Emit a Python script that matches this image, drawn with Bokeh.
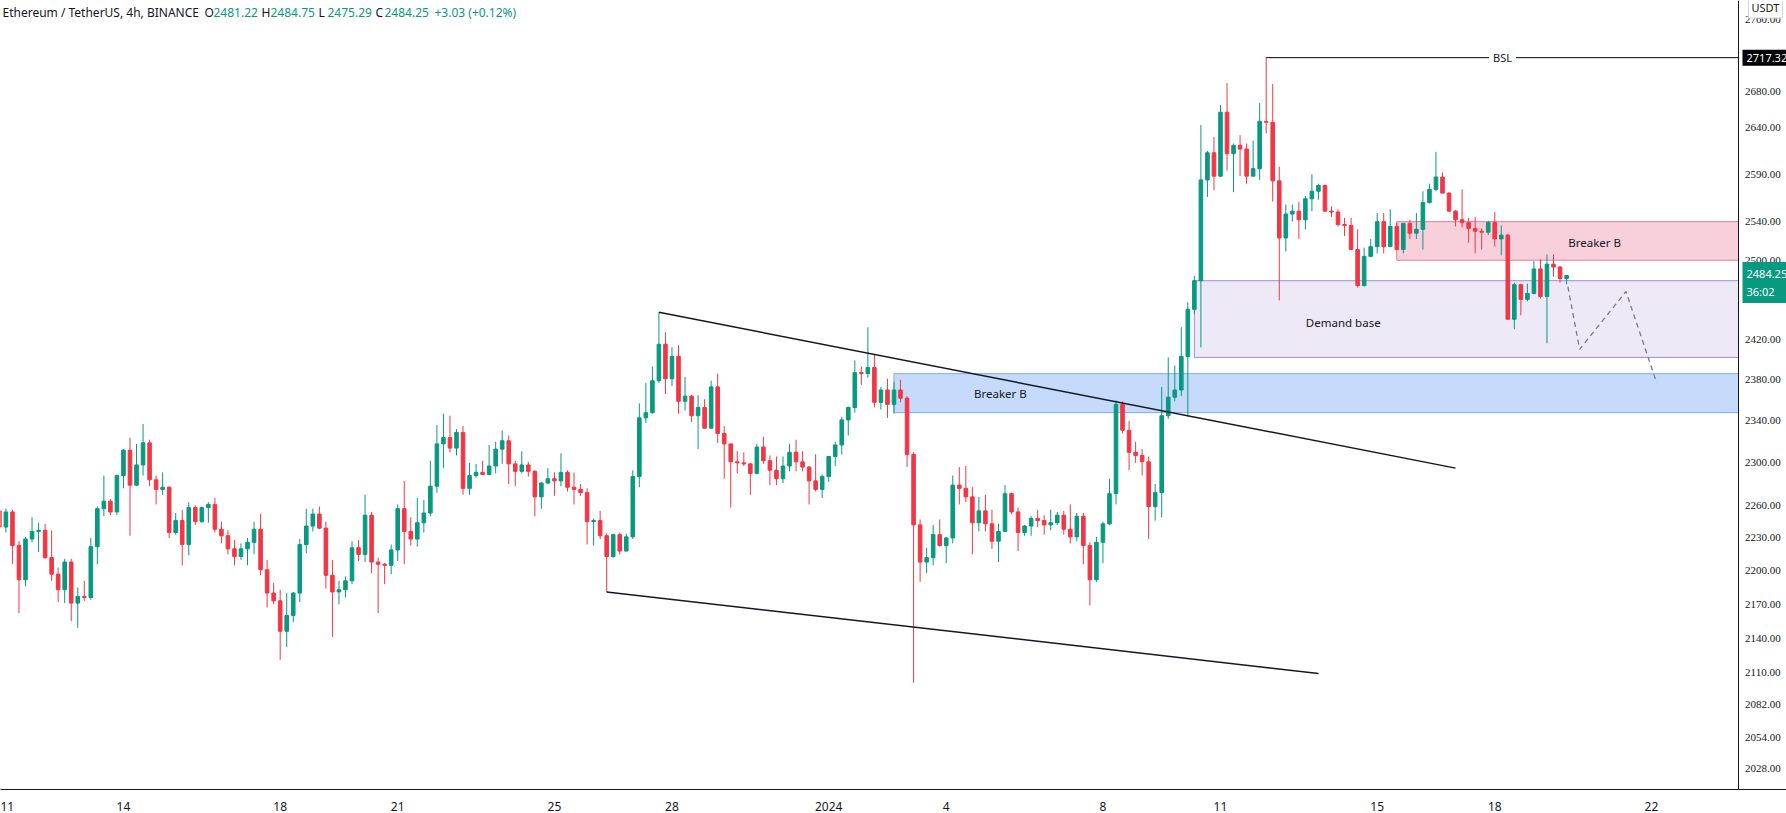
from datetime import datetime, timedelta
from bokeh.plotting import figure
from bokeh.models import Range1d, FixedTicker, Label, ColumnDataSource, Span
from bokeh.embed import file_html
from bokeh.resources import INLINE

# ---------------- data (ETH/USDT, 4h bars, Binance) ----------------
FIRST_BAR = datetime(2023, 12, 10, 20, 0)
BAR_HOURS = 4

opens = [2255, 2240, 2254, 2223, 2192, 2229, 2236, 2237, 2212, 2197,
         2183, 2208, 2171, 2177, 2176, 2222, 2257, 2264, 2254, 2288,
         2312, 2279, 2298, 2319, 2284, 2275, 2277, 2235, 2246, 2224,
         2258, 2245, 2258, 2261, 2238, 2232, 2220, 2213, 2220, 2226,
         2238, 2201, 2180, 2173, 2146, 2160, 2180, 2224, 2241, 2252,
         2239, 2196, 2181, 2183, 2191, 2221, 2215, 2251, 2208, 2206,
         2205, 2219, 2257, 2236, 2229, 2244, 2253, 2278, 2318, 2324,
         2314, 2329, 2276, 2288, 2291, 2289, 2297, 2313, 2321, 2299,
         2292, 2298, 2292, 2268, 2281, 2285, 2283, 2291, 2277, 2275,
         2272, 2245, 2246, 2232, 2213, 2233, 2218, 2231, 2287, 2343,
         2348, 2379, 2415, 2381, 2403, 2359, 2364, 2345, 2353, 2333,
         2373, 2328, 2318, 2301, 2300, 2299, 2290, 2315, 2302, 2293,
         2285, 2297, 2310, 2301, 2296, 2283, 2275, 2287, 2306, 2317,
         2341, 2353, 2387, 2386, 2392, 2358, 2370, 2356, 2370, 2362,
         2308, 2242, 2208, 2212, 2233, 2223, 2230, 2279, 2276, 2268,
         2244, 2255, 2243, 2227, 2236, 2271, 2254, 2235, 2241, 2248,
         2246, 2242, 2244, 2251, 2238, 2231, 2250, 2223, 2192, 2226,
         2243, 2271, 2356, 2331, 2310, 2307, 2301, 2259, 2272, 2345,
         2363, 2370, 2403, 2450, 2479, 2584, 2613, 2588, 2657, 2612,
         2621, 2617, 2588, 2596, 2647, 2646, 2583, 2523, 2548, 2551,
         2542, 2564, 2572, 2578, 2551, 2550, 2537, 2536, 2511, 2474,
         2504, 2514, 2540, 2514, 2535, 2511, 2538, 2528, 2532, 2560,
         2574, 2587, 2570, 2551, 2542, 2539, 2533, 2530, 2529, 2539,
         2522, 2526, 2440, 2475, 2460, 2466, 2491, 2463, 2496, 2493,
         2481.22]

highs = [2257, 2257, 2256, 2227, 2231, 2249, 2244, 2243, 2237, 2203,
         2211, 2211, 2185, 2191, 2230, 2259, 2288, 2266, 2289, 2313,
         2324, 2318, 2337, 2322, 2288, 2291, 2278, 2253, 2256, 2263,
         2260, 2259, 2263, 2267, 2245, 2237, 2228, 2225, 2230, 2245,
         2252, 2210, 2189, 2183, 2180, 2181, 2229, 2257, 2257, 2259,
         2245, 2210, 2191, 2195, 2227, 2228, 2270, 2254, 2212, 2207,
         2224, 2261, 2283, 2249, 2267, 2265, 2302, 2336, 2347, 2345,
         2332, 2335, 2300, 2299, 2302, 2317, 2320, 2331, 2326, 2302,
         2311, 2301, 2293, 2282, 2295, 2291, 2309, 2293, 2291, 2280,
         2276, 2248, 2255, 2234, 2234, 2235, 2234, 2293, 2357, 2377,
         2393, 2447, 2427, 2412, 2414, 2383, 2365, 2365, 2361, 2379,
         2386, 2335, 2318, 2311, 2310, 2300, 2318, 2325, 2307, 2306,
         2306, 2318, 2322, 2311, 2297, 2308, 2289, 2306, 2320, 2344,
         2354, 2399, 2393, 2432, 2405, 2373, 2381, 2378, 2380, 2364,
         2310, 2247, 2221, 2242, 2247, 2231, 2288, 2296, 2297, 2277,
         2268, 2270, 2256, 2243, 2279, 2272, 2258, 2242, 2250, 2256,
         2251, 2256, 2254, 2255, 2261, 2253, 2253, 2226, 2231, 2245,
         2285, 2360, 2359, 2340, 2320, 2313, 2306, 2280, 2373, 2402,
         2394, 2432, 2457, 2484, 2643, 2615, 2630, 2665, 2689, 2623,
         2632, 2623, 2626, 2667, 2717.32, 2688, 2598, 2558, 2558, 2561,
         2567, 2590, 2580, 2579, 2556, 2553, 2544, 2544, 2532, 2513,
         2522, 2549, 2549, 2553, 2539, 2539, 2542, 2549, 2572, 2580,
         2614, 2592, 2571, 2552, 2574, 2544, 2545, 2533, 2541, 2550,
         2536, 2527, 2477, 2476, 2476, 2499, 2501, 2506, 2506, 2494,
         2484.75]

lows = [2236, 2235, 2206, 2162, 2186, 2226, 2217, 2211, 2191, 2172,
        2171, 2155, 2149, 2173, 2174, 2206, 2250, 2251, 2251, 2276,
        2232, 2278, 2288, 2278, 2261, 2270, 2230, 2233, 2205, 2214,
        2242, 2244, 2244, 2235, 2225, 2215, 2205, 2210, 2205, 2215,
        2196, 2167, 2170, 2121, 2132, 2154, 2172, 2216, 2236, 2238,
        2184, 2141, 2170, 2176, 2188, 2209, 2208, 2198, 2162, 2188,
        2197, 2209, 2206, 2223, 2222, 2235, 2250, 2272, 2295, 2310,
        2307, 2270, 2270, 2286, 2289, 2288, 2290, 2299, 2280, 2278,
        2290, 2287, 2250, 2257, 2280, 2269, 2278, 2273, 2261, 2269,
        2224, 2223, 2229, 2181, 2212, 2215, 2218, 2229, 2277, 2338,
        2347, 2377, 2366, 2374, 2347, 2350, 2339, 2313, 2333, 2333,
        2319, 2285, 2258, 2290, 2297, 2270, 2289, 2299, 2279, 2279,
        2281, 2292, 2292, 2292, 2261, 2273, 2267, 2282, 2297, 2308,
        2326, 2348, 2375, 2382, 2353, 2351, 2343, 2347, 2358, 2296,
        2101, 2190, 2198, 2205, 2222, 2207, 2225, 2261, 2263, 2215,
        2236, 2236, 2220, 2208, 2236, 2252, 2218, 2232, 2232, 2240,
        2233, 2237, 2242, 2233, 2225, 2227, 2206, 2169, 2190, 2207,
        2242, 2261, 2328, 2293, 2300, 2288, 2229, 2246, 2249, 2342,
        2359, 2364, 2344, 2445, 2412, 2566, 2573, 2587, 2594, 2571,
        2588, 2580, 2588, 2584, 2634, 2561, 2459, 2509, 2540, 2522,
        2532, 2551, 2563, 2551, 2545, 2535, 2525, 2511, 2472, 2473,
        2503, 2507, 2507, 2514, 2511, 2507, 2522, 2522, 2511, 2559,
        2572, 2570, 2551, 2535, 2534, 2518, 2507, 2511, 2526, 2514,
        2505, 2440, 2430, 2444, 2458, 2465, 2461, 2416, 2483, 2477,
        2475.29]

closes = [2240, 2254, 2223, 2192, 2229, 2236, 2237, 2212, 2197, 2183,
          2208, 2171, 2177, 2176, 2222, 2257, 2264, 2254, 2288, 2312,
          2279, 2298, 2319, 2284, 2275, 2277, 2235, 2246, 2224, 2258,
          2245, 2258, 2261, 2238, 2232, 2220, 2213, 2220, 2226, 2238,
          2201, 2180, 2173, 2146, 2160, 2180, 2224, 2241, 2252, 2239,
          2196, 2181, 2183, 2191, 2221, 2215, 2251, 2208, 2206, 2205,
          2219, 2257, 2236, 2229, 2244, 2253, 2278, 2318, 2324, 2314,
          2329, 2276, 2288, 2291, 2289, 2297, 2313, 2321, 2299, 2292,
          2298, 2292, 2268, 2281, 2285, 2283, 2291, 2277, 2275, 2272,
          2245, 2246, 2232, 2213, 2233, 2218, 2231, 2287, 2343, 2348,
          2379, 2415, 2381, 2403, 2359, 2364, 2345, 2353, 2333, 2373,
          2328, 2318, 2301, 2300, 2299, 2290, 2315, 2302, 2293, 2285,
          2297, 2310, 2301, 2296, 2283, 2275, 2287, 2306, 2317, 2341,
          2353, 2387, 2386, 2392, 2358, 2370, 2356, 2370, 2362, 2308,
          2242, 2208, 2212, 2233, 2223, 2230, 2279, 2276, 2268, 2244,
          2255, 2243, 2227, 2236, 2271, 2254, 2235, 2241, 2248, 2246,
          2242, 2244, 2251, 2238, 2231, 2250, 2223, 2192, 2226, 2243,
          2271, 2356, 2331, 2310, 2307, 2301, 2259, 2272, 2345, 2363,
          2370, 2403, 2450, 2479, 2584, 2613, 2588, 2657, 2612, 2621,
          2617, 2588, 2596, 2647, 2646, 2583, 2523, 2548, 2551, 2542,
          2564, 2572, 2578, 2551, 2550, 2537, 2536, 2511, 2474, 2504,
          2514, 2540, 2514, 2535, 2511, 2538, 2528, 2532, 2560, 2574,
          2587, 2570, 2551, 2542, 2539, 2533, 2530, 2529, 2539, 2522,
          2526, 2440, 2475, 2460, 2466, 2491, 2463, 2496, 2493, 2481.22,
          2484.25]

price_ticks = [2028, 2054, 2082, 2110, 2140, 2170, 2200, 2230, 2260, 2300,
               2340, 2380, 2420, 2460, 2500, 2540, 2590, 2640, 2680, 2760]
date_ticks = ["2023-12-11", "2023-12-14", "2023-12-18", "2023-12-21", "2023-12-25",
              "2023-12-28", "2024-01-01", "2024-01-04", "2024-01-08", "2024-01-11",
              "2024-01-15", "2024-01-18", "2024-01-22"]
date_tick_labels = ["11", "14", "18", "21", "25", "28", "2024", "4", "8", "11", "15", "18", "22"]

# drawings (bar number, price)
breaker_blue = (138, 2348, 2386)      # start bar, bottom, top
demand_base = (184, 2402, 2479)
breaker_pink = (215, 2500, 2540)
bsl_bar, bsl_level = 195, 2717.32
upper_trend_x, upper_trend_y = [102, 224], [2447, 2295]
lower_trend_x, lower_trend_y = [94, 203], [2181, 2109]
proj_x = [241.2, 243.0, 250.1, 254.8]
proj_y = [2473, 2410, 2468, 2377]

header_title = "Ethereum / TetherUS, 4h, BINANCE"
ohlc_names = ["O", "H", "L", "C"]
change_text = "+3.03 (+0.12%)"
countdown = "36:02"
currency = "USDT"

# visible window (bars / prices)
X_START, X_END = 1.17, 274.68
AXIS_BAR = 267.33            # where the price scale begins
Y_BOTTOM, Y_TOP = 2010.7, 2782.0
HEADER_Y = 2768.0

UP, DOWN = "#089981", "#f23645"
INK = "#131722"
FONT = "Noto Sans"

# ---------------- figure ----------------
n = len(opens)
bars = list(range(1, n + 1))
colors = [UP if c >= o else DOWN for o, c in zip(opens, closes)]
src = ColumnDataSource(dict(
    x=bars, high=highs, low=lows,
    top=[max(o, c) for o, c in zip(opens, closes)],
    bottom=[min(o, c) for o, c in zip(opens, closes)],
    color=colors))

p = figure(width=1786, height=813, y_axis_type="log", y_axis_location=None,
           x_range=Range1d(X_START, X_END), y_range=Range1d(Y_BOTTOM, Y_TOP),
           toolbar_location=None, output_backend="svg",
           min_border_left=0, min_border_right=0, min_border_top=0, min_border_bottom=0,
           background_fill_color="white", border_fill_color="white")
p.outline_line_color = None
p.xgrid.visible = False
p.ygrid.visible = False

# time axis
bar_of = lambda d: 1 + (datetime.strptime(d, "%Y-%m-%d") - FIRST_BAR) / timedelta(hours=BAR_HOURS)
tick_bars = [int(round(bar_of(d))) for d in date_ticks]
p.xaxis.ticker = FixedTicker(ticks=tick_bars)
p.xaxis.major_label_overrides = {b: lab for b, lab in zip(tick_bars, date_tick_labels)}
p.xaxis.major_tick_line_color = None
p.xaxis.minor_tick_line_color = None
p.xaxis.axis_line_color = INK
p.xaxis.major_label_text_color = INK
p.xaxis.major_label_text_font = FONT
p.xaxis.major_label_text_font_size = "12px"
p.xaxis.major_label_standoff = 6

# zones
for (start, lo, hi), fill, edge in [(breaker_blue, "#c6dbfb", "#82aaf0"),
                                    (demand_base, "#ede9f6", "#a68ad8"),
                                    (breaker_pink, "#f8d0dc", "#e57a9c")]:
    p.quad(left=[start], right=[AXIS_BAR], bottom=[lo], top=[hi],
           fill_color=fill, line_color=edge, line_width=1)

# candles
p.segment(x0="x", y0="low", x1="x", y1="high", color="color", line_width=1, source=src)
p.vbar(x="x", width=0.55, top="top", bottom="bottom", fill_color="color",
       line_color="color", line_width=1, source=src)

# trend lines, BSL, projection
p.line(upper_trend_x, upper_trend_y, color=INK, line_width=1.5)
p.line(lower_trend_x, lower_trend_y, color=INK, line_width=1.5)
p.segment(x0=[bsl_bar], y0=[bsl_level], x1=[AXIS_BAR], y1=[bsl_level], color="black", line_width=1)
p.line(proj_x, proj_y, color="#787b86", line_width=1.3, line_dash="5 4")

# drawing labels
def txt(x, y, s, size="11.5px", **kw):
    p.add_layout(Label(x=x, y=y, text=s, text_font=FONT, text_font_size=size,
                       text_color=INK, text_align="center", text_baseline="middle", **kw))

txt(154.3, 2367, "Breaker B")
txt(245.3, 2518, "Breaker B")
txt(206.8, 2437, "Demand base")
txt(231.2, bsl_level, "BSL", size="11px", background_fill_color="white", padding=4)

# price scale (right column)
p.add_layout(Span(location=AXIS_BAR, dimension="height", line_color=INK, line_width=1))
p.text(x=[AXIS_BAR + 1.0] * len(price_ticks), y=price_ticks,
       text=[f"{t:.2f}" for t in price_ticks], text_font=FONT, text_font_size="11px",
       text_color=INK, text_align="left", text_baseline="middle")
p.add_layout(Label(x=AXIS_BAR, y=bsl_level, x_offset=4, text=f"{bsl_level:.2f}",
                   text_font=FONT, text_font_size="11px", text_color="white",
                   text_baseline="middle", background_fill_color="black", padding=4))
p.add_layout(Label(x=AXIS_BAR, y=2477.3, x_offset=4, text=f"{closes[-1]:.2f}\n{countdown}",
                   text_font=FONT, text_font_size="11px", text_color="white",
                   text_baseline="middle", background_fill_color=UP, padding=4))
p.add_layout(Label(x=AXIS_BAR, y=2774.0, x_offset=10, text=currency,
                   text_font=FONT, text_font_size="11px", text_color=INK,
                   text_baseline="middle", background_fill_color="white",
                   border_line_color="#d1d4dc", padding=3))

# header line
def head(x, s, color=INK):
    p.add_layout(Label(x=x, x_units="screen", y=HEADER_Y, text=s, text_font=FONT,
                       text_font_size="12px", text_color=color, text_baseline="alphabetic"))

head(2, header_title)
vals = [opens[-1], highs[-1], lows[-1], closes[-1]]
for name, v, xn in zip(ohlc_names, vals, [204, 261, 318, 375]):
    head(xn, name)
    head(xn + 9, f"{v:.2f}", UP)
head(434, change_text, UP)

open("out.html", "w").write(file_html(p, INLINE))
